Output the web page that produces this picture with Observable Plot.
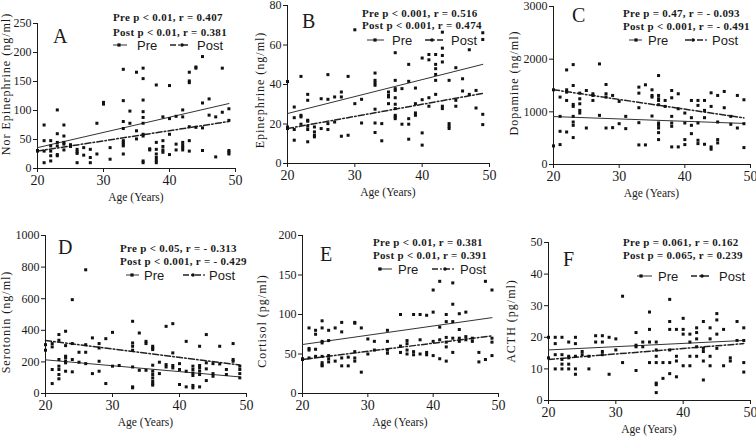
<!DOCTYPE html>
<html><head><meta charset="utf-8">
<script src="https://cdn.jsdelivr.net/npm/d3@7"></script>
<script src="https://cdn.jsdelivr.net/npm/@observablehq/plot@0.6"></script>
<style>
body{margin:0;background:#fff;}
#wrap{position:relative;width:756px;height:439px;overflow:hidden;background:#fff;}
#wrap svg{position:absolute;}
</style></head><body><div id="wrap"></div>
<script>
// ---- Data: [age, [values...]] ----
const norEpinephrine = [
[20,[30,31]],[21,[75,48,30,10]],[22,[48,39,30,22,13]],[23,[101,60,45,39,24,22]],
[24,[75,56,45,42,32]],[25,[41,38]],[26,[33,29,26,10]],[27,[36,23]],[28,[33,19,10]],
[29,[78,25]],[30,[114,111]],[31,[36,16]],[33,[171,117,81,69,48,45,42,39,25]],
[34,[99,78]],[35,[166,65,51]],[36,[173,155,118,98,88,78,59,56,13,10]],[37,[34,32]],
[38,[144,45,33,25,19,14,10]],[39,[89,48,38,32,28]],[40,[143,86,59,24]],[41,[90,42,32]],
[42,[101,89,45,40,36,32]],[43,[166,151,148,72,48,30]],[44,[175,173,71]],[45,[193,113,70,31]],
[46,[120,92]],[47,[89,20]],[48,[173,97]],[49,[103,83,31,28,25]]
];
const epinephrine = [
[20,[41.5,18.5,17.7]],[21,[28.6,23.2,17.2,11.8]],[22,[44.1,24.4,23.6,19.9]],
[23,[35,32,21.9,21.4,18.9,17.2,11]],[24,[18.5,16,14.3,13.5]],[25,[32.8,17.7]],
[26,[45,32.5,20.2,17.2]],[27,[33.7,21]],[28,[36.2,33.7,13.8]],[29,[44.1,14.3]],
[30,[67.7,30.3]],[31,[32.5,20.5]],[33,[45.8,42.1,40.8,39.6,27.5,20.5,15.7]],
[34,[20.2,11.5]],[35,[36.2,34.5,33.7,30.3]],[36,[56.1,42.1,37.9,37,33.3,30,27.8,24.4,23.6,22.7]],
[37,[37.9,19.9]],[38,[50.2,41.6,22.7,19.9,12.3]],[39,[38.2,30.3,25.6,24.4]],
[40,[53.4,32.3,15.5,9.3]],[41,[55.2,52.5,33.3,29]],[42,[55.2,50.2,48,45.1,42.1,35]],
[43,[66.5,58.4,54.7,51.4,29,27.8]],[44,[42.1,20.2,18.9,17.7]],[45,[48.5,32,29]],
[46,[42.9,36.7]],[47,[57.6,35]],[48,[37,28.1]],[49,[66.2,62.8,24.9,19.7]]
];
const dopamine = [
[20,[1418,353]],[21,[1280,914,630,378]],[22,[1796,1418,1374,1216,617]],
[23,[1897,1500,1141,1103,914,807,744,511]],[24,[1355,1248,1153,1027,977]],[25,[1405,693]],
[26,[1343,1311,1216]],[27,[1910,933]],[28,[1519,1343,1280,693]],[29,[1311,700]],
[30,[1198,775]],[31,[914,681]],[33,[1469,1355,1078,794,372]],[34,[1513,372]],
[35,[1418,1311,1280,920]],[36,[1689,1311,1248,1216,1135,788,744,693,605,473]],
[37,[1216,1103]],[38,[1405,1267,914,788,725,334]],[39,[1343,1059,334]],[40,[977,788,473,378]],
[41,[1216,889,744,586]],[42,[1216,1122,788,460,397]],[43,[1216,1027,889,384]],
[44,[1361,1103,334,290]],[45,[1311,807,473,410]],[46,[1387,1078]],[47,[914,763]],
[48,[1311,693]],[49,[1229,775,321]]
];
const serotonin = [
[20,[309,274]],[21,[316,295,152,63]],[22,[373,337,215,173,152,120,93]],
[23,[394,303,236,225,204,194,141]],[24,[594,316,215,137]],[25,[261,198]],
[26,[783,309,261,189]],[27,[352,126]],[28,[316,288,204,141]],[29,[347,63]],
[30,[387,173]],[31,[177]],[33,[457,320,299,274,168,42,36]],[34,[383,147]],
[35,[330,316,147]],[36,[299,288,278,179,141,120,99,78,63,53]],[37,[198,126]],
[38,[425,183,168]],[39,[442,257,177,162]],[40,[189,152,57]],[41,[330,141,42]],
[42,[173,152,130,114,51,36]],[43,[299,177,162,141,120,42]],[44,[373,194,156,82]],
[45,[189,126,109]],[46,[299,187]],[47,[152,120]],[48,[316,215,204]],[49,[173,152,126,99]]
];
const cortisol = [
[20,[44,43]],[21,[83,57,55,45]],[22,[80,75,56,47]],[23,[92,83,66,64,47,39,36,35]],
[24,[80,67,48,44,40]],[25,[83,41]],[26,[90,78,45,35]],[27,[46,35]],[28,[90,89,53,45,41]],
[29,[83,27]],[30,[69,50]],[31,[66,55]],[33,[80,66,55,51]],[35,[100,60,52]],
[36,[67,63,55,50]],[37,[100,53,49]],[38,[100,68,50]],[39,[99,52,49]],
[40,[131,103,66,48]],[41,[142,84,68,44]],[42,[100,91,71,65,59,41]],
[43,[140,113,91,70,52]],[44,[101,81,70,66]],[45,[103,72,68]],[46,[70,66]],
[47,[52,40]],[48,[142,43]],[49,[131,70,65,48]]
];
const acth = [
[20,[20,13.5]],[21,[20,18,14.5,10]],[22,[20,14.5,13,11.5,10]],[23,[18.5,14,13.5,11.5,10]],
[24,[20,18,14,10,8.3]],[25,[15.5,14.5]],[26,[14,10]],[27,[20.5,18.5]],
[28,[20.5,18.5,15.5,14.5]],[29,[20,8.3]],[30,[19.5,16]],[31,[33,12]],
[33,[21.5,17.5,17,9.5]],[34,[18.5,17]],[35,[28,22.5,18.5,12]],
[36,[18.5,16,14,12,5.5,5,2.5]],[37,[12,7]],[38,[32,25,22.5,16,12,8.5]],
[39,[22.5,14,12.5,7.5]],[40,[26,22.5,21,11]],[41,[21,18.5,14,11]],
[42,[23,21.5,19.5,17,14]],[43,[25,16.5,15.5,12.5,6.5]],[44,[23,19.5,14,11]],
[45,[27.5,25.5,21,16.5]],[46,[22.5,11]],[47,[13.5,12.5]],[48,[25,19]],[49,[23,19,12,9]]
];

// Regression line endpoints: [age, value]
const fitNorEpi   = {pre:[[20,36],[49,112]],   post:[[20,30],[49,81]]};
const fitEpi      = {pre:[[20,25.3],[49,50.2]], post:[[20,17.7],[49,35.5]]};
const fitDopamine = {pre:[[20,910],[49,780]],  post:[[20,1420],[49,885]]};
const fitSero     = {pre:[[20,213],[49,105]],  post:[[20,335],[49,180]]};
const fitCortisol = {pre:[[20,62],[49,96]],    post:[[20,43],[49,73]]};
const fitActh     = {pre:[[20,16],[49,19]],    post:[[20,13],[49,18]]};

const ageTicks = [20,30,40,50];

const panels = [
 {key:"A", data:norEpinephrine, fit:fitNorEpi, ylabel:"Nor Epinephrine (ng/ml)", yDomain:[0,250], yTicks:[0,50,100,150,200,250],
  stats:["Pre p < 0.01, r = 0.407","Post p < 0.01, r = 0.381"]},
 {key:"B", data:epinephrine, fit:fitEpi, ylabel:"Epinephrine (ng/ml)", yDomain:[0,80], yTicks:[0,20,40,60,80],
  stats:["Pre p < 0.001, r = 0.516","Post p < 0.001, r = 0.474"]},
 {key:"C", data:dopamine, fit:fitDopamine, ylabel:"Dopamine (ng/ml)", yDomain:[0,3000], yTicks:[0,1000,2000,3000],
  stats:["Pre p = 0.47, r = - 0.093","Post p < 0.001, r = - 0.491"]},
 {key:"D", data:serotonin, fit:fitSero, ylabel:"Serotonin (ng/ml)", yDomain:[0,1000], yTicks:[0,200,400,600,800,1000],
  stats:["Pre p < 0.05, r = - 0.313","Post p < 0.001, r = - 0.429"]},
 {key:"E", data:cortisol, fit:fitCortisol, ylabel:"Cortisol (pg/ml)", yDomain:[0,200], yTicks:[0,50,100,150,200],
  stats:["Pre p < 0.01, r = 0.381","Post p < 0.01, r = 0.391"]},
 {key:"F", data:acth, fit:fitActh, ylabel:"ACTH (pg/ml)", yDomain:[0,50], yTicks:[0,10,20,30,40,50],
  stats:["Pre p = 0.061, r = 0.162","Post p = 0.065, r = 0.239"]}
];

// ---- Layout (pixels) ----
const layout = {
 A:{left:0,  top:0,  w:252,h:219, ml:37,mr:17,mt:23,mb:51, ylab:[6,84],   letter:[53,43], stats:[113,21,35.5], leg:{y:45, pre:[113,127,119,137], post:[170,190,182,197]}},
 B:{left:252,top:0,  w:252,h:219, ml:35,mr:15,mt:5, mb:56, ylab:[7.5,90], letter:[50,28], stats:[110,17,29],   leg:{y:40, pre:[115,132,123,140], post:[173,193,180,199]}},
 C:{left:504,top:0,  w:252,h:219, ml:49,mr:6, mt:6, mb:55, ylab:[10,83],  letter:[68,22], stats:[119,17,30],   leg:{y:40, pre:[125,138,132,144], post:[181,203,189,208]}},
 D:{left:0,  top:219,w:252,h:220, ml:45,mr:6, mt:16,mb:46, ylab:[6,103],  letter:[58,35], stats:[120,32.5,45.5],leg:{y:56, pre:[126,139,132,144], post:[183,207,193,209]}},
 E:{left:252,top:219,w:252,h:220, ml:50,mr:6, mt:16,mb:46, ylab:[10,102], letter:[68,42], stats:[121,26.5,39.5],leg:{y:50, pre:[126,140,128,146], post:[180,203,193,208]}},
 F:{left:504,top:219,w:252,h:220, ml:44,mr:6, mt:23,mb:39, ylab:[7,102],  letter:[59,47], stats:[119,26.5,39.5],leg:{y:57, pre:[133,148,137,154], post:[187,207,198,215]}}
};

const serif = "'Liberation Serif','Times New Roman',Times,serif";
const sans = "'Liberation Sans',Arial,Helvetica,sans-serif";
const ink = "#1a1a1a";
const postDash = "6,2.2,1.6,2.2";
const wrap = document.getElementById("wrap");

for (const p of panels) {
  const L = layout[p.key];
  const rows = p.data.flatMap(([a, vs]) => vs.map(v => ({age:a, value:v})));
  const pre = p.fit.pre.map(([a,v]) => ({age:a, value:v}));
  const post = p.fit.post.map(([a,v]) => ({age:a, value:v}));
  const svg = Plot.plot({
    width:L.w, height:L.h, marginLeft:L.ml, marginRight:L.mr, marginTop:L.mt, marginBottom:L.mb,
    style:{background:"transparent", overflow:"visible", fontFamily:serif, fontSize:"12px", color:ink},
    x:{domain:[20,50]},
    y:{domain:p.yDomain},
    marks:[
      Plot.ruleY([p.yDomain[0]], {stroke:ink, strokeWidth:1}),
      Plot.ruleX([20], {stroke:ink, strokeWidth:1}),
      Plot.axisX({ticks:ageTicks, tickSize:4, tickPadding:3, fontSize:14, label:null, tickFormat:d=>String(d)}),
      Plot.axisY({ticks:p.yTicks, tickSize:4, tickPadding:2, fontSize:12, label:null, tickFormat:d=>String(d)}),
      Plot.line(pre, {x:"age", y:"value", stroke:"#333", strokeWidth:1}),
      Plot.line(post, {x:"age", y:"value", stroke:"#222", strokeWidth:1.5, strokeDasharray:postDash}),
      Plot.dot(rows, {x:"age", y:"value", symbol:"square", r:1.7, fill:"#111"})
    ]
  });
  svg.style.left = L.left + "px";
  svg.style.top = L.top + "px";
  wrap.appendChild(svg);
  const g = d3.select(svg).append("g").attr("text-anchor", "start");
  // y label
  g.append("text").attr("transform", `translate(${L.ylab[0]},${L.ylab[1]}) rotate(-90)`)
    .attr("text-anchor","middle").attr("dominant-baseline","central")
    .attr("font-family", serif).attr("font-size", 12).attr("letter-spacing", 1).attr("fill", ink)
    .text(p.ylabel);
  // x label
  g.append("text").attr("x", (L.ml + L.w - L.mr) / 2).attr("y", L.h - L.mb + 33)
    .attr("text-anchor","middle").attr("font-family", serif).attr("font-size", 11.5).attr("fill", ink)
    .text("Age (Years)");
  // panel letter
  g.append("text").attr("x", L.letter[0]).attr("y", L.letter[1]).attr("text-anchor","start")
    .attr("font-family", serif).attr("font-size", 20).attr("fill", ink).text(p.key);
  // stats
  for (const [i, s] of p.stats.entries()) {
    g.append("text").attr("x", L.stats[0]).attr("y", L.stats[1 + i]).attr("text-anchor","start")
      .attr("font-family", serif).attr("font-weight","bold").attr("font-size", 11)
      .attr("letter-spacing", 0.3).attr("fill", ink).text(s);
  }
  // legend
  const y = L.leg.y;
  g.append("line").attr("x1", L.leg.pre[0]).attr("x2", L.leg.pre[1]).attr("y1", y).attr("y2", y)
    .attr("stroke", "#333").attr("stroke-width", 1);
  g.append("rect").attr("x", L.leg.pre[2]-1.6).attr("y", y-1.6).attr("width", 3.2).attr("height", 3.2).attr("fill", "#111");
  g.append("text").attr("x", L.leg.pre[3]).attr("y", y).attr("dominant-baseline","central").attr("text-anchor","start")
    .attr("font-family", sans).attr("font-size", 13).attr("fill", ink).text("Pre");
  g.append("line").attr("x1", L.leg.post[0]).attr("x2", L.leg.post[1]).attr("y1", y).attr("y2", y)
    .attr("stroke", "#222").attr("stroke-width", 1.5).attr("stroke-dasharray", postDash);
  g.append("circle").attr("cx", L.leg.post[2]).attr("cy", y).attr("r", 1.8).attr("fill", "#111");
  g.append("text").attr("x", L.leg.post[3]).attr("y", y).attr("dominant-baseline","central").attr("text-anchor","start")
    .attr("font-family", sans).attr("font-size", 13).attr("fill", ink).text("Post");
}
</script></body></html>
